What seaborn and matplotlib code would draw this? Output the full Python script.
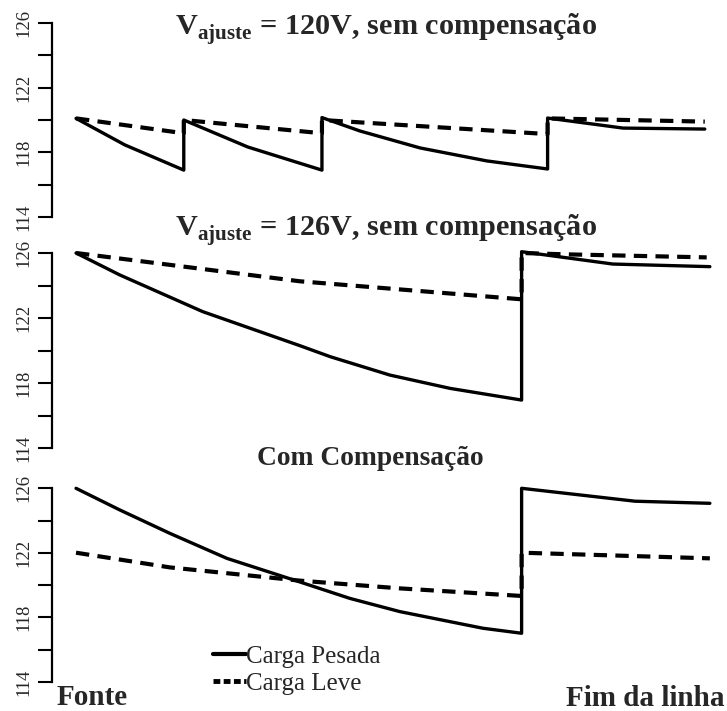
"""Perfil de tensao ao longo do alimentador: tres cenarios de ajuste"""

import matplotlib
matplotlib.use("Agg")
import matplotlib.pyplot as plt
from matplotlib.lines import Line2D
import pandas as pd
import seaborn as sns

# posicao ao longo da linha (0 = fonte, 100 = fim da linha)
x_p1_pesada = [0, 7.7, 17.0, 17.0, 27.1, 38.8, 38.8, 44.8, 54.3, 64.8, 74.4, 74.4, 86.3, 99.2]
v_p1_pesada = [120.1, 118.46, 116.9, 120.0, 118.33, 116.9, 120.15, 119.32, 118.27, 117.47, 116.97, 120.12, 119.5, 119.44]
x_p1_leve = [0, 17.0, 17.0, 38.8, 38.8, 74.4, 74.4, 99.2]
v_p1_leve = [120.1, 119.18, 120.0, 119.18, 120.0, 119.13, 120.1, 119.9]

x_p2_pesada = [0, 6.9, 20.0, 35.3, 40.1, 49.5, 59.0, 70.3, 70.3, 84.7, 100]
v_p2_pesada = [126.0, 124.65, 122.39, 120.3, 119.62, 118.49, 117.67, 116.95, 126.08, 125.32, 125.16]
x_p2_leve = [0, 35.3, 70.3, 70.3, 77.0, 99.5]
v_p2_leve = [126.0, 124.26, 123.15, 126.0, 125.92, 125.73]

x_p3_pesada = [0, 6.9, 14.8, 23.8, 35.3, 43.2, 51.1, 64.2, 70.3, 70.3, 88.2, 100]
v_p3_pesada = [126.0, 124.66, 123.21, 121.66, 120.2, 119.18, 118.36, 117.33, 117.02, 126.0, 125.2, 125.07]
x_p3_leve = [0, 14.8, 35.3, 51.1, 70.3, 70.3, 100]
v_p3_leve = [122.01, 121.1, 120.28, 119.8, 119.33, 122.01, 121.66]

titulos = [r"$\mathbf{V}_{\mathbf{ajuste}}$ = 120V, sem compensação",
           r"$\mathbf{V}_{\mathbf{ajuste}}$ = 126V, sem compensação",
           "Com Compensação"]
yticks_maior = [114, 118, 122, 126]
yticks_menor = [116, 120, 124]

sns.set_style("ticks")
plt.rcParams["font.family"] = ["Liberation Serif", "DejaVu Serif"]
plt.rcParams["mathtext.fontset"] = "custom"
plt.rcParams["mathtext.bf"] = "Liberation Serif:bold"
plt.rcParams["mathtext.rm"] = "Liberation Serif"

fig = plt.figure(figsize=(7.27, 7.11), dpi=100)
W, H = 727, 711

# (topo, base) de cada painel em pixels
paineis = [(23, 217), (253, 448), (488.3, 682)]
dados = [
    (x_p1_pesada, v_p1_pesada, x_p1_leve, v_p1_leve),
    (x_p2_pesada, v_p2_pesada, x_p2_leve, v_p2_leve),
    (x_p3_pesada, v_p3_pesada, x_p3_leve, v_p3_leve),
]

for (top, bot), (xs, vs, xl, vl) in zip(paineis, dados):
    ax = fig.add_axes([52 / W, 1 - bot / H, (720 - 52) / W, (bot - top) / H])
    df_s = pd.DataFrame({"x": xs, "v": vs})
    df_l = pd.DataFrame({"x": xl, "v": vl})
    sns.lineplot(data=df_s, x="x", y="v", ax=ax, estimator=None, sort=False,
                 color="black", linewidth=2.4, clip_on=False)
    sns.lineplot(data=df_l, x="x", y="v", ax=ax, estimator=None, sort=False,
                 color="black", linewidth=3.0, linestyle=(0, (3.2, 2.0)), clip_on=False)
    ax.set_xlim(-3.79, 101.6)
    ax.set_ylim(114, 126)
    ax.set_yticks(yticks_maior)
    ax.set_yticks(yticks_menor, minor=True)
    ax.set_yticklabels([str(t) for t in yticks_maior])
    ax.tick_params(axis="y", which="both", length=10, width=1.5, pad=4,
                   color="black", labelsize=13.5, labelrotation=90)
    for lab in ax.get_yticklabels():
        lab.set_va("center")
    ax.set_xticks([])
    ax.set_xlabel("")
    ax.set_ylabel("")
    for s in ["top", "right", "bottom"]:
        ax.spines[s].set_visible(False)
    ax.spines["left"].set_linewidth(1.6)
    ax.spines["left"].set_color("black")
    ax.patch.set_alpha(0)

# titulos
fig.text(386 / W, 1 - 35 / H, titulos[0], ha="center", va="baseline",
         fontsize=21.8, fontweight="bold")
fig.text(386 / W, 1 - 236 / H, titulos[1], ha="center", va="baseline",
         fontsize=21.8, fontweight="bold")
fig.text(370 / W, 1 - 465 / H, titulos[2], ha="center", va="baseline",
         fontsize=19.8, fontweight="bold")

fig.text(57 / W, 1 - 705 / H, "Fonte", ha="left", va="baseline",
         fontsize=21, fontweight="bold")
fig.text(725 / W, 1 - 706 / H, "Fim da linha", ha="right", va="baseline",
         fontsize=21, fontweight="bold")

handles = [Line2D([], [], color="black", linewidth=3.0),
           Line2D([], [], color="black", linewidth=3.5, linestyle=(0, (1.4, 0.7)))]
fig.legend(handles, ["Carga Pesada", "Carga Leve"], loc="upper left",
           bbox_to_anchor=(213 / W, 1 - 645 / H), bbox_transform=fig.transFigure,
           frameon=False, fontsize=18, handlelength=1.3, handletextpad=0.0,
           labelspacing=0.2, borderpad=0, borderaxespad=0)

fig.savefig("out.png", dpi=100)
